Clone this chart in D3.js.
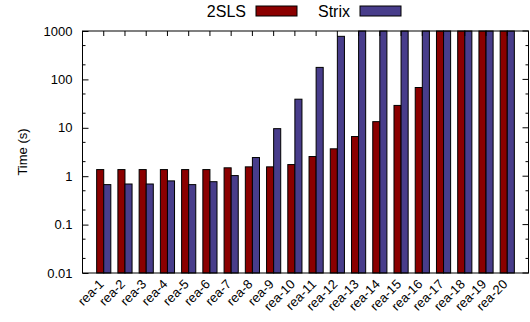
<!DOCTYPE html>
<html><head><meta charset="utf-8">
<script src="https://cdn.jsdelivr.net/npm/d3@7/dist/d3.min.js"></script>
<style>body{margin:0;background:#fff}svg{display:block}text{font-family:"Liberation Sans",Arial,sans-serif}</style>
</head><body><svg id="c" width="530" height="322"></svg>
<script>
const categories = ["rea-1","rea-2","rea-3","rea-4","rea-5","rea-6","rea-7","rea-8","rea-9","rea-10","rea-11","rea-12","rea-13","rea-14","rea-15","rea-16","rea-17","rea-18","rea-19","rea-20"];
const seriesNames = ["2SLS","Strix"];
const sls = [1.37,1.37,1.37,1.37,1.37,1.37,1.49,1.56,1.56,1.74,2.55,3.68,6.6,13.4,29,68,1000,1000,1000,1000];
const strix = [0.67,0.69,0.69,0.8,0.67,0.77,1.03,2.43,9.6,39,177,776,1000,1000,1000,1000,1000,1000,1000,1000];
const yTicks = [0.01,0.1,1,10,100,1000];
const yTickLabels = ["0.01","0.1","1","10","100","1000"];
const colors = ["#8b0000","#483d8b"];

const svg = d3.select("#c");
const L = 82.5, R = 528.5, T = 31, B = 273;
const x = d3.scaleLinear().domain([-1, 20]).range([L, R]);
const y = d3.scaleLog().domain([0.01, 1000]).range([B, T]);
const unit = x(1) - x(0);
const bw = unit / 3;

// minor ticks 2 and 5
const minor = [];
yTicks.slice(0, -1).forEach(t => { minor.push(t * 2, t * 5); });

const g = svg.append("g");
const series = [sls, strix];
series.forEach((vals, s) => {
  g.selectAll(null).data(vals).enter().append("rect")
    .attr("x", (d, i) => x(i) + (s - 1) * bw)
    .attr("y", d => y(d))
    .attr("width", bw)
    .attr("height", d => B - y(d))
    .attr("fill", colors[s])
    .attr("stroke", "#000").attr("stroke-width", 1);
});

svg.append("rect").attr("x", L).attr("y", T).attr("width", R - L).attr("height", B - T)
  .attr("fill", "none").attr("stroke", "#000").attr("stroke-width", 1);

const yl = d3.axisLeft(y).tickValues(yTicks).tickSizeInner(-6).tickSizeOuter(0).tickPadding(10)
  .tickFormat((d, i) => yTickLabels[i]);
const ya = svg.append("g").attr("transform", `translate(${L},0)`).call(yl);
ya.select(".domain").remove();
ya.selectAll("text").attr("font-size", 13).attr("font-family", '"Liberation Sans",Arial,sans-serif').attr("fill", "#000");
const ym = svg.append("g");
ym.selectAll(null).data(minor).enter().append("line")
  .attr("x1", L).attr("x2", L + 3).attr("y1", d => y(d)).attr("y2", d => y(d)).attr("stroke", "#000");
ym.selectAll(null).data(minor).enter().append("line")
  .attr("x1", R).attr("x2", R - 3).attr("y1", d => y(d)).attr("y2", d => y(d)).attr("stroke", "#000");
ym.selectAll(null).data(yTicks).enter().append("line")
  .attr("x1", R).attr("x2", R - 6).attr("y1", d => y(d)).attr("y2", d => y(d)).attr("stroke", "#000");

const idx = categories.map((c, i) => i);
svg.append("g").selectAll(null).data(idx).enter().append("line")
  .attr("x1", d => x(d)).attr("x2", d => x(d)).attr("y1", T).attr("y2", T + 5).attr("stroke", "#000");
svg.append("g").selectAll(null).data(categories).enter().append("text")
  .attr("transform", (d, i) => `translate(${x(i) + 1},${B + 12}) rotate(-45)`)
  .attr("text-anchor", "end").attr("font-size", 13).text(d => d);

svg.append("text").attr("transform", `translate(27,${(T + B) / 2}) rotate(-90)`)
  .attr("text-anchor", "middle").attr("font-size", 13).text("Time (s)");

const legX = [246, 350];
seriesNames.forEach((n, s) => {
  svg.append("text").attr("x", legX[s]).attr("y", 17).attr("text-anchor", "end").attr("font-size", 16).text(n);
  svg.append("rect").attr("x", legX[s] + 10).attr("y", 6).attr("width", 41).attr("height", 10)
    .attr("fill", colors[s]).attr("stroke", "#000").attr("stroke-width", 1);
});
</script></body></html>
